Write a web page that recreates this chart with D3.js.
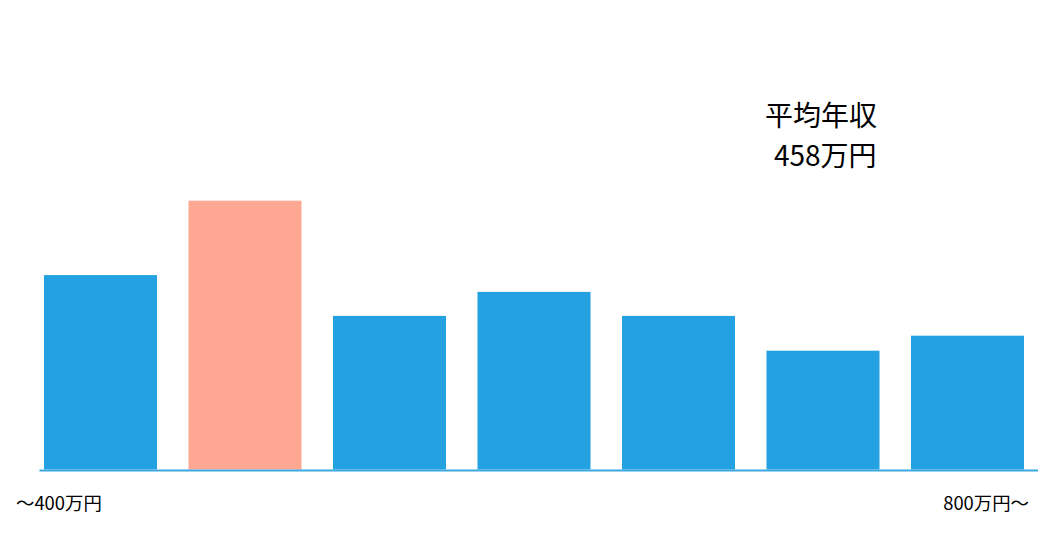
<!DOCTYPE html>
<html>
<head>
<meta charset="utf-8">
<script src="https://cdn.jsdelivr.net/npm/d3@7"></script>
<style>
  html, body { margin: 0; padding: 0; background: #fff; }
  svg { display: block; font-family: "Noto Sans CJK JP", "Noto Sans", sans-serif; }
</style>
</head>
<body>
<div id="chart"></div>
<script>
// 年収帯ごとの割合 (%) — 画像から読み取った推定値
const categories = ["〜400万円", "400〜450万円", "450〜500万円", "500〜600万円", "600〜700万円", "700〜800万円", "800万円〜"];
const values = [16.2, 22.4, 12.8, 14.8, 12.8, 9.9, 11.15];
const highlight = "400〜450万円"; // 平均年収が入る帯
const edgeLabels = ["〜400万円", "800万円〜"];
const noteLines = ["平均年収", "458万円"];

const largura = 1059, altura = 551;

const svg = d3.select("#chart").append("svg")
    .attr("width", largura)
    .attr("height", altura);

// escalas
const x = d3.scaleBand()
    .domain(categories)
    .range([44, 1024])
    .paddingInner(0.218)
    .paddingOuter(0);

const y = d3.scaleLinear()
    .domain([0, 39])
    .range([469.5, 1.5]);

// barras
svg.append("g")
  .selectAll("rect")
  .data(categories)
  .join("rect")
    .attr("x", d => x(d))
    .attr("width", x.bandwidth())
    .attr("y", (d, i) => y(values[i]))
    .attr("height", (d, i) => y(0) - y(values[i]))
    .attr("fill", d => d === highlight ? "#fea793" : "#23a1e0");

// linha de base
svg.append("line")
    .attr("x1", 39.5)
    .attr("x2", 1038)
    .attr("y1", y(0) + 1)
    .attr("y2", y(0) + 1)
    .attr("stroke", "#3aa8e3")
    .attr("stroke-width", 2);

// rótulos das pontas
svg.append("text")
    .attr("x", 16)
    .attr("y", 510)
    .attr("font-size", 18.4)
    .attr("fill", "#000")
    .text(edgeLabels[0]);

svg.append("text")
    .attr("x", 1029)
    .attr("y", 510)
    .attr("font-size", 18.4)
    .attr("text-anchor", "end")
    .attr("fill", "#000")
    .text(edgeLabels[1]);

// anotação do salário médio (segunda linha um pouco recuada)
svg.append("text")
    .attr("font-size", 28)
    .attr("fill", "#000")
  .selectAll("tspan")
  .data(noteLines)
  .join("tspan")
    .attr("x", (d, i) => i ? 774 : 765)
    .attr("y", (d, i) => 126 + i * 40)
    .text(d => d);
</script>
</body>
</html>
